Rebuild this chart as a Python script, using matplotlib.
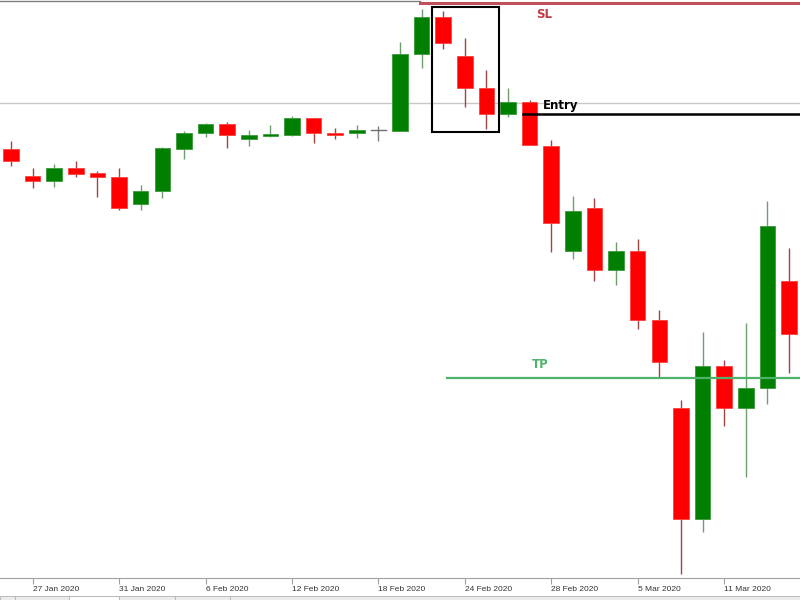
import matplotlib.pyplot as plt
import numpy as np
import pandas as pd
from matplotlib.patches import Rectangle

# daily candles, 24 Jan 2020 .. 16 Mar 2020 (business days)
fechas = pd.bdate_range("2020-01-24", "2020-03-16")

apertura = [450.7, 424.0, 419.3, 432.0, 426.7, 423.0, 396.3, 409.0, 451.3, 467.3,
            475.7, 460.7, 464.3, 465.3, 481.7, 466.7, 466.7, 469.7, 469.3, 545.7,
            582.7, 544.0, 512.3, 486.0, 497.7, 454.3, 349.3, 391.7, 330.0, 349.3,
            280.0, 192.3, 80.7, 234.0, 191.7, 212.3, 319.0]
maximo = [459.0, 432.3, 435.7, 439.0, 429.0, 432.3, 415.0, 453.3, 469.0, 476.7,
          477.7, 470.0, 475.0, 484.0, 481.7, 471.7, 475.0, 474.0, 557.7, 590.7,
          589.0, 562.3, 530.0, 512.3, 500.0, 460.0, 404.0, 401.7, 358.3, 361.0,
          290.0, 200.0, 267.7, 240.0, 277.3, 399.3, 352.3]
minimo = [434.0, 411.7, 413.3, 423.3, 403.3, 390.0, 390.0, 402.3, 440.7, 463.3,
          452.3, 454.0, 462.7, 464.0, 457.3, 460.7, 461.7, 459.3, 469.0, 532.3,
          550.7, 492.7, 470.7, 482.7, 455.0, 348.3, 341.0, 319.3, 315.0, 270.7,
          222.7, 26.0, 68.3, 174.0, 123.3, 196.0, 227.3]
cierre = [439.3, 419.3, 432.0, 426.0, 422.7, 392.0, 408.7, 451.7, 467.3, 476.0,
          465.3, 465.0, 465.7, 481.7, 467.3, 464.7, 470.3, 469.7, 546.0, 582.7,
          556.7, 512.3, 486.0, 497.7, 455.0, 377.3, 389.3, 330.0, 349.3, 280.0,
          238.3, 80.7, 234.0, 191.7, 212.3, 374.3, 265.7]

precio_actual = 497.0
nivel_sl = 597.0
nivel_entry = 486.0
nivel_tp = 222.0
linea_superior = 598.6

fig = plt.figure(figsize=(8, 6), dpi=100)
ax = fig.add_axes([0, 22 / 600, 1, 578 / 600])

n = len(apertura)
idx = np.arange(n)
ancho = 0.72

for i in idx:
    o, h, l, c = apertura[i], maximo[i], minimo[i], cierre[i]
    if c > o:
        cuerpo, borde, mecha = "#007f00", "#3a9a3a", "#6f9f6f"
    elif c < o:
        cuerpo, borde, mecha = "#ff0000", "#ff4040", "#a04444"
    else:
        cuerpo, borde, mecha = "#707070", "#707070", "#808080"
    ax.plot([i, i], [l, h], color=mecha, lw=1, zorder=2, solid_capstyle="butt")
    if c == o:
        ax.plot([i - ancho / 2, i + ancho / 2], [o, o], color=cuerpo, lw=1, zorder=3)
    else:
        ax.add_patch(Rectangle((i - ancho / 2, min(o, c)), ancho, abs(c - o),
                               facecolor=cuerpo, edgecolor=borde, lw=0.6, zorder=3))

x0, x1 = -0.51, n - 0.49
ax.set_xlim(x0, x1)
ax.set_ylim(22, 600)

# lineas de nivel
ax.axhline(precio_actual, color="#c8c8c8", lw=1, zorder=1)
ax.plot([x0, 18.93], [linea_superior, linea_superior], color="#808080", lw=1, zorder=1)
ax.plot([18.93, x1], [nivel_sl, nivel_sl], color="#c0505a", lw=2.2, zorder=4)
ax.plot([23.69, x1], [nivel_entry, nivel_entry], color="black", lw=1.8, zorder=4)
ax.plot([20.18, x1], [nivel_tp, nivel_tp], color="#4db36a", lw=1.6, zorder=4)

ax.text(24.6, nivel_entry + 9, "Entry", color="black", fontsize=8.5,
        fontweight="bold", va="center", ha="left", zorder=5)
ax.text(24.65, nivel_sl - 12, "SL", color="#c03a45", fontsize=8.5,
        fontweight="bold", va="center", ha="center", zorder=5)
ax.text(24.5, nivel_tp + 14, "TP", color="#4db36a", fontsize=8.5,
        fontweight="bold", va="center", ha="center", zorder=5)

# recuadro del patron
ax.add_patch(Rectangle((19.48, 468), 3.1, 125, fill=False, edgecolor="black",
                       lw=1.5, zorder=5))

for s in ["top", "left", "right"]:
    ax.spines[s].set_visible(False)
ax.spines["bottom"].set_color("#a0a0a0")
ax.set_yticks([])

pos = list(range(1, n, 4))
ax.set_xticks(pos)
ax.set_xticklabels([f"{fechas[p].day} {fechas[p].strftime('%b %Y')}" for p in pos],
                   ha="left", fontsize=6, color="#333333", family="Liberation Sans")
ax.tick_params(axis="x", length=4, color="#a0a0a0", pad=2)

# barra de pestañas inferior
fig.patches.append(Rectangle((0, 0), 1, 4 / 600, transform=fig.transFigure,
                             facecolor="#ececec", edgecolor="#b0b0b0", lw=0.6))
fig.patches.append(Rectangle((69 / 800, 0), 50 / 800, 4 / 600, transform=fig.transFigure,
                             facecolor="white", edgecolor="#b0b0b0", lw=0.6))
for xs in [15, 175, 230]:
    fig.add_artist(plt.Line2D([xs / 800, xs / 800], [0, 4 / 600], color="#b0b0b0",
                              lw=0.6, transform=fig.transFigure))

fig.savefig("out.png", dpi=100)
